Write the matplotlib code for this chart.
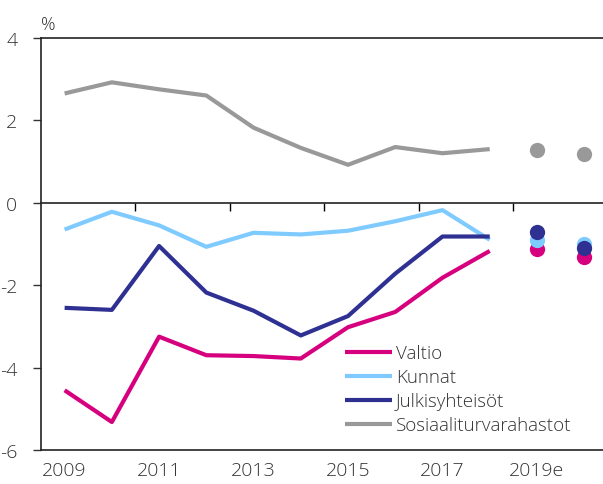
import numpy as np
import matplotlib.pyplot as plt

plt.rcParams['font.family'] = ['Open Sans', 'DejaVu Sans']
plt.rcParams['font.weight'] = 'light'

years = ['2009', '2010', '2011', '2012', '2013', '2014', '2015', '2016', '2017', '2018', '2019e', '2020e']
n_hist = 10  # 2009-2018 drawn as lines, forecasts as dots

valtio = [-4.55, -5.32, -3.25, -3.70, -3.72, -3.78, -3.02, -2.65, -1.82, -1.17, -1.12, -1.31]
kunnat = [-0.65, -0.22, -0.55, -1.07, -0.73, -0.77, -0.68, -0.45, -0.18, -0.90, -0.90, -1.00]
julkis = [-2.55, -2.60, -1.05, -2.18, -2.62, -3.22, -2.75, -1.72, -0.82, -0.82, -0.70, -1.09]
sosiaali = [2.65, 2.92, 2.75, 2.60, 1.82, 1.33, 0.92, 1.35, 1.20, 1.30, 1.29, 1.19]

series = [
    ('Valtio', valtio, '#D6007F'),
    ('Kunnat', kunnat, '#7FCBFF'),
    ('Julkisyhteisöt', julkis, '#2E3192'),
    ('Sosiaaliturvarahastot', sosiaali, '#999999'),
]

fig = plt.figure(figsize=(6.03, 4.85), dpi=100)
ax = fig.add_axes([0.068, 0.070, 0.94, 0.850])

x = np.arange(len(years))
for name, vals, col in series:
    ax.plot(x[:n_hist], vals[:n_hist], color=col, lw=3, label=name, solid_capstyle='butt')
# forecast dots, drawn so navy sits on top like in the original
for name, vals, col in [series[3], series[0], series[1], series[2]]:
    ax.plot(x[n_hist:], vals[n_hist:], 'o', color=col, ms=11, mec='none')

ax.set_xlim(-0.5, len(years) - 0.5)
ax.set_ylim(-6, 4)
ax.set_yticks([-6, -4, -2, 0, 2, 4])
ax.set_yticklabels(['-6', '-4', '-2', '0', '2', '4'])
ax.set_xticks(x[::2])
ax.set_xticklabels(years[::2])
ax.tick_params(axis='x', length=0, pad=8, labelsize=14, colors='#333333')
ax.tick_params(axis='y', length=6, pad=11, labelsize=14, colors='#333333', width=1)
for s in ['left', 'top', 'bottom']:
    ax.spines[s].set_color('#222222')
    ax.spines[s].set_linewidth(1.2)
ax.spines['right'].set_visible(False)

# zero line with ticks between category pairs
zero = ax.secondary_xaxis(0.6)
zero.set_xticks(np.arange(1.5, len(years), 2))
zero.spines['top'].set_color('#222222')
zero.spines['top'].set_linewidth(1.2)
zero.tick_params(axis='x', which='both', top=False, bottom=True, labelbottom=False,
                 labeltop=False, direction='out', length=6, width=1)

ax.text(0.0, 1.012, '%', transform=ax.transAxes, fontsize=13, color='#333333', ha='left', va='bottom')

ax.legend(loc='lower left', bbox_to_anchor=(0.52, 0.016), frameon=False, fontsize=13.5,
          handlelength=2.5, handletextpad=0.2, labelspacing=0.32, borderpad=0,
          labelcolor='#333333')

fig.savefig('out.png', dpi=100)
